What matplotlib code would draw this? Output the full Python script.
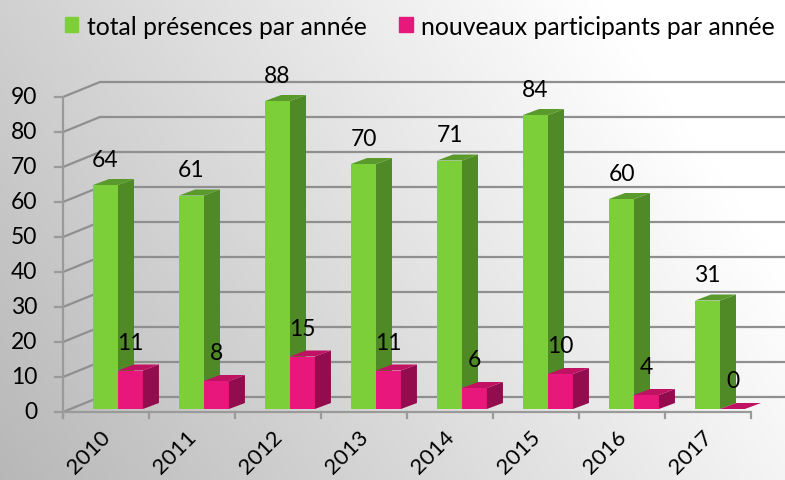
import matplotlib
matplotlib.use("Agg")
import matplotlib.pyplot as plt
from matplotlib.patches import Polygon, Patch
import numpy as np

plt.rcParams['font.family'] = ['Lato', 'DejaVu Sans']

years = ['2010', '2011', '2012', '2013', '2014', '2015', '2016', '2017']
total = [64, 61, 88, 70, 71, 84, 60, 31]
nouveaux = [11, 8, 15, 11, 6, 10, 4, 0]
yticks = [0, 10, 20, 30, 40, 50, 60, 70, 80, 90]
labels = ['total présences par année', 'nouveaux participants par année']

green = ('#7dcf3a', '#5a9a2c', '#4f8a27')   # front, top, side
pink = ('#e8177b', '#c01262', '#930c4e')

W, H = 785, 481
fig = plt.figure(figsize=(W / 100, H / 100), dpi=100)
ax = fig.add_axes([0, 0, 1, 1])
ax.set_axis_off()

# data coords: 86 px per category, 3.5 px per unit
x0px, y0px, sx, sy = 118, 410, 86.0, 3.5
ax.set_xlim(-x0px / sx, (W - x0px) / sx)
ax.set_ylim((y0px - H) / sy, y0px / sy)

# background gradient
xx, yy = np.meshgrid(np.linspace(0, 1, 200), np.linspace(0, 1, 200))
t = np.clip(0.85 * xx + 0.35 * yy, 0, 1)
g = 0.72 + 0.28 * t
img = np.dstack([g, g, g])
ax.imshow(img, extent=[*ax.get_xlim(), *ax.get_ylim()], origin='lower',
          aspect='auto', zorder=0)

# wall planes
fx, fy = (63 - x0px) / sx, (y0px - 413) / sy      # front left corner (value 0)
bx, by = (100 - x0px) / sx, (y0px - 398) / sy     # back left corner
xend = (W - x0px) / sx
grid_c = '#8f8f8f'
for v in yticks:
    ax.plot([fx, bx, xend], [v + fy, v + by, v + by], color=grid_c, lw=1.6,
            zorder=1, solid_capstyle='butt')

# front axes
axis_end = (750 - x0px) / sx
ax.plot([fx, fx], [fy - 1.5, 90 + fy], color='#9a9a9a', lw=1.6, zorder=1)
ax.plot([fx, axis_end], [fy, fy], color='#9a9a9a', lw=1.6, zorder=1)
for k in range(len(years) + 1):
    xt = fx + k
    ax.plot([xt, xt], [fy, fy - 1.8], color='#9a9a9a', lw=1.6, zorder=1)
for v in yticks:
    ax.plot([fx - 0.09, fx], [v + fy, v + fy], color='#9a9a9a', lw=1.6, zorder=1)
    ax.text(fx - 0.30, v + fy, str(v), ha='right', va='center', fontsize=16.5,
            color='black')

# bars
bw = 0.29
ddx, ddy = 16 / sx, 6 / sy


def bar3d(xc, v, cols):
    xl, xr = xc - bw / 2, xc + bw / 2
    ax.bar(xc, v, width=bw, color=cols[0], zorder=3)
    ax.add_patch(Polygon([(xr, 0), (xr, v), (xr + ddx, v + ddy), (xr + ddx, ddy)],
                         closed=True, fc=cols[2], ec='none', zorder=3))
    ax.add_patch(Polygon([(xl, v), (xr, v), (xr + ddx, v + ddy), (xl + ddx, v + ddy)],
                         closed=True, fc=cols[1], ec='none', zorder=3))


for i, (a, b) in enumerate(zip(total, nouveaux)):
    bar3d(i - bw / 2, a, green)
    bar3d(i + bw / 2, b, pink)
    ax.text(i - bw / 2, a + 7.4, str(a), ha='center', va='center', fontsize=16.5,
            zorder=5)
    ax.text(i + bw / 2, b + 8.0, str(b), ha='center', va='center', fontsize=16.5,
            zorder=5)
    ax.text(i - 0.13, -6.9, years[i], ha='right', va='center', rotation=45,
            rotation_mode='anchor', fontsize=16, zorder=5)

handles = [Patch(color=green[0]), Patch(color=pink[0])]
fig.legend(handles, labels, loc='upper center', bbox_to_anchor=(0.535, 1.014),
           ncol=2, frameon=False, fontsize=17.8, handlelength=0.55,
           handleheight=0.55, handletextpad=0.35, columnspacing=1.3)

fig.savefig('out.png', dpi=100)
